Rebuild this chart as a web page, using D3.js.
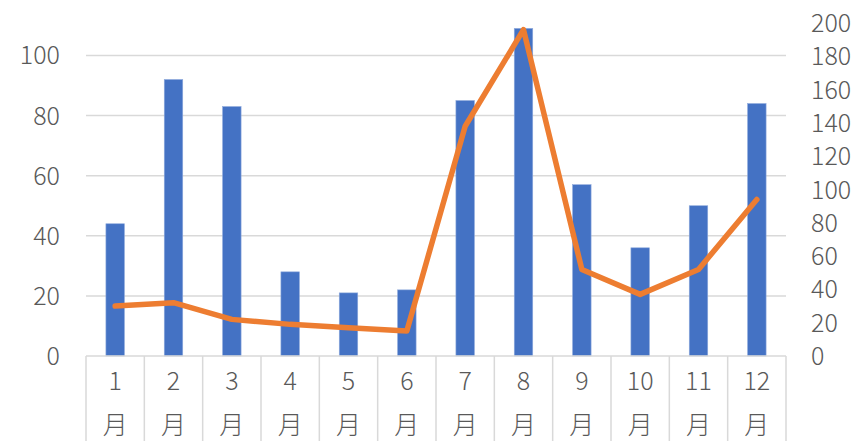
<!DOCTYPE html>
<html><head><meta charset="utf-8">
<script src="https://cdn.jsdelivr.net/npm/d3@7"></script>
<style>body{margin:0;background:#fff}svg{display:block}</style>
</head><body><svg id="c" width="857" height="441"></svg>
<script>
const months = ["1","2","3","4","5","6","7","8","9","10","11","12"];
const barValues = [44,92,83,28,21,22,85,109,57,36,50,84];
const lineValues = [30,32,22,19,17,15,138,196,52,37,52,94];
const leftTicks = [0,20,40,60,80,100];
const rightTicks = [0,20,40,60,80,100,120,140,160,180,200];

const W=857,H=441, L=86, R=786, T=23, B=356;
const svg=d3.select("#c");
const font='"Noto Sans CJK JP","Noto Sans",sans-serif';
const fs=25, fw=300, tc="#595959";
const x=d3.scaleBand().domain(months).range([L,R]).paddingInner(0).paddingOuter(0);
const yL=d3.scaleLinear().domain([0,110.8]).range([B,T]);
const yR=d3.scaleLinear().domain([0,200]).range([B,T]);

// gridlines
svg.append("g").selectAll("line").data(leftTicks.filter(d=>d>0)).join("line")
 .attr("x1",L).attr("x2",R).attr("y1",d=>yL(d)).attr("y2",d=>yL(d))
 .attr("stroke","#d9d9d9").attr("stroke-width",1.5);

// bars
const bw=18.5;
svg.append("g").selectAll("rect").data(barValues).join("rect")
 .attr("x",(d,i)=>x(months[i])+x.bandwidth()/2-bw/2).attr("width",bw)
 .attr("y",d=>yL(d)).attr("height",d=>B-yL(d))
 .attr("fill","#4472c4").attr("stroke","#8faadc").attr("stroke-width",0.6);

// x axis line and separators
const ax=svg.append("g");
ax.append("line").attr("x1",L).attr("x2",R).attr("y1",B).attr("y2",B).attr("stroke","#d9d9d9").attr("stroke-width",1.5);
const bounds=months.map(m=>x(m)).concat([R]);
ax.selectAll("line.sep").data(bounds).join("line").attr("class","sep")
 .attr("x1",d=>d).attr("x2",d=>d).attr("y1",B).attr("y2",H)
 .attr("stroke","#d9d9d9").attr("stroke-width",1.5);
ax.selectAll("text.m").data(months).join("text").attr("class","m")
 .attr("x",d=>x(d)+x.bandwidth()/2).attr("y",381).attr("dy","0.36em")
 .attr("text-anchor","middle").attr("font-family",font).attr("font-size",fs).attr("font-weight",fw).attr("fill",tc).text(d=>d);
ax.selectAll("text.g").data(months).join("text").attr("class","g")
 .attr("x",d=>x(d)+x.bandwidth()/2).attr("y",425).attr("dy","0.36em")
 .attr("text-anchor","middle").attr("font-family",font).attr("font-size",fs).attr("font-weight",fw).attr("fill",tc).text("月");

// left axis labels
svg.append("g").selectAll("text").data(leftTicks).join("text")
 .attr("x",60).attr("y",d=>yL(d)).attr("dy","0.36em").attr("text-anchor","end")
 .attr("font-family",font).attr("font-size",fs).attr("font-weight",fw).attr("fill",tc).text(d=>d);
// right axis labels
svg.append("g").selectAll("text").data(rightTicks).join("text")
 .attr("x",811).attr("y",d=>yR(d)).attr("dy","0.36em").attr("text-anchor","start")
 .attr("font-family",font).attr("font-size",fs).attr("font-weight",fw).attr("fill",tc).text(d=>d);

// line
const line=d3.line().x((d,i)=>x(months[i])+x.bandwidth()/2).y(d=>yR(d));
svg.append("path").datum(lineValues).attr("d",line).attr("fill","none")
 .attr("stroke","#ed7d31").attr("stroke-width",5.5).attr("stroke-linejoin","round").attr("stroke-linecap","round");
</script></body></html>
